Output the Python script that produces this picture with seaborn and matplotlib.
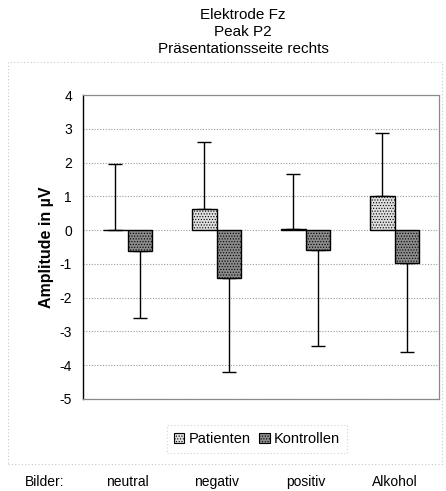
import matplotlib
matplotlib.use("Agg")
import matplotlib.pyplot as plt
from matplotlib.patches import Rectangle
import numpy as np
import pandas as pd
import seaborn as sns

# Mean P2 amplitudes (µV) and standard deviations at electrode Fz
bilder = ["neutral", "negativ", "positiv", "Alkohol"]
gruppen = ["Patienten", "Kontrollen"]
patienten = [0.0, 0.63, 0.03, 1.02]
kontrollen = [-0.63, -1.42, -0.60, -0.98]
sd_patienten = [1.95, 1.99, 1.63, 1.86]
sd_kontrollen = [1.97, 2.78, 2.82, 2.64]
y_ticks = [4, 3, 2, 1, 0, -1, -2, -3, -4, -5]

df = pd.DataFrame({
    "Bilder": bilder * 2,
    "Gruppe": [gruppen[0]] * 4 + [gruppen[1]] * 4,
    "Amplitude": patienten + kontrollen,
})

sns.set_style("white")
plt.rcParams["font.family"] = ["Liberation Sans", "DejaVu Sans"]
plt.rcParams["hatch.linewidth"] = 0.5
for key in ["text.color", "axes.labelcolor", "xtick.color", "ytick.color"]:
    plt.rcParams[key] = "black"

fig = plt.figure(figsize=(4.46, 4.91), dpi=100)
W, H = 446, 491
ax = fig.add_axes([83 / W, 1 - 399 / H, (439 - 83) / W, (399 - 95) / H])

colors = {"Patienten": "#dedede", "Kontrollen": "#8a8a8a"}
sns.barplot(data=df, x="Bilder", y="Amplitude", hue="Gruppe",
            order=bilder, hue_order=gruppen, palette=colors,
            width=0.56, errorbar=None, edgecolor="black", linewidth=1.0,
            legend=False, ax=ax)

for cont in ax.containers:
    for bar in cont:
        bar.set_hatch("......")
        bar.set_zorder(3)

# one-sided standard deviation whiskers, pointing away from zero
for cont, means, sds in zip(ax.containers, [patienten, kontrollen],
                            [sd_patienten, sd_kontrollen]):
    xs = [b.get_x() + b.get_width() / 2 for b in cont]
    lower = [0 if m >= 0 else s for m, s in zip(means, sds)]
    upper = [s if m >= 0 else 0 for m, s in zip(means, sds)]
    ax.errorbar(xs, means, yerr=[lower, upper], fmt="none", ecolor="black",
                elinewidth=1.0, capsize=5, capthick=1.0, zorder=2)

ax.set_ylim(-5, 4)
ax.set_yticks(y_ticks)
ax.set_yticklabels([str(t) for t in y_ticks], fontsize=10)
ax.tick_params(axis="y", length=0, pad=8)
ax.yaxis.grid(True, color="#9a9a9a", linestyle=(0, (1, 1.5)), linewidth=0.8)
ax.set_axisbelow(True)

ax.set_xlim(-0.5, 3.5)
ax.set_xticks(range(len(bilder)))
ax.set_xticklabels(bilder, fontsize=10)
ax.tick_params(axis="x", length=0, pad=55)
ax.set_xlabel("")
ax.set_ylabel("Amplitude in µV", fontsize=11.5, fontweight="bold", labelpad=4)

ax.spines["left"].set_color("black")
ax.spines["left"].set_linewidth(1.0)
for s in ["top", "right", "bottom"]:
    ax.spines[s].set_color("#8a8a8a")
    ax.spines[s].set_linestyle((0, (1, 1)))
    ax.spines[s].set_linewidth(0.9)

fig.text(243 / W, 1 - 32 / H, "Elektrode Fz\nPeak P2\nPräsentationsseite rechts",
         ha="center", va="center", fontsize=11, linespacing=1.3)
fig.text(45 / W, 1 - 482 / H, "Bilder:", ha="center", va="center", fontsize=10)

# outer chart frame
fig.patches.append(Rectangle((8 / W, 1 - 464 / H), (442 - 8) / W, (464 - 62) / H,
                             transform=fig.transFigure, fill=False,
                             edgecolor="#c8c8c8", linestyle=(0, (1, 2)),
                             linewidth=0.8))

handles = [Rectangle((0, 0), 1, 1, facecolor=colors[g], edgecolor="black",
                     hatch="......", linewidth=0.8) for g in gruppen]
leg = fig.legend(handles, gruppen, loc="center", bbox_to_anchor=(257 / W, 1 - 439 / H),
                 ncol=2, fontsize=10.5, frameon=True, handlelength=0.7,
                 handleheight=0.7, handletextpad=0.3, columnspacing=0.6,
                 borderpad=0.5)
leg.get_frame().set_edgecolor("#c8c8c8")
leg.get_frame().set_linestyle((0, (1, 2)))
leg.get_frame().set_linewidth(0.8)
leg.get_frame().set_boxstyle("square", pad=0)

fig.savefig("out.png", dpi=100)
